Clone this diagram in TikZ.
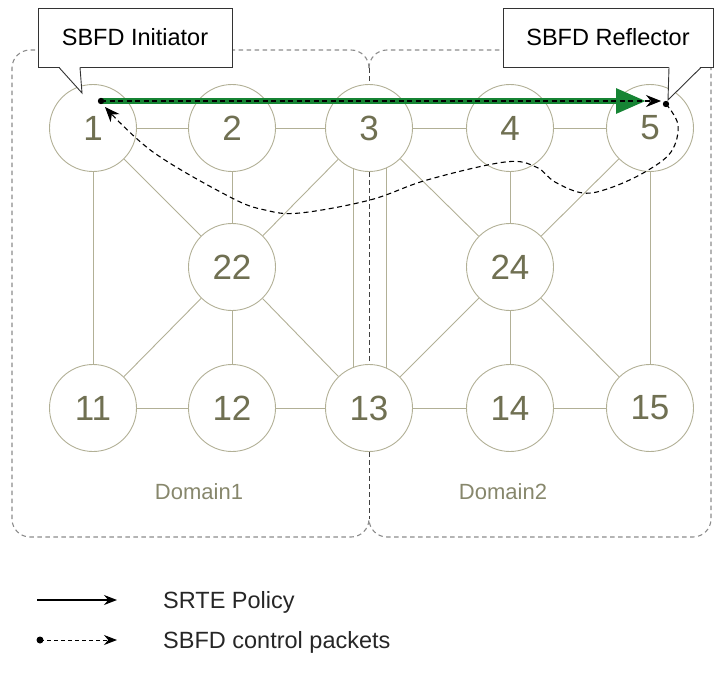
\documentclass[tikz,border=0pt]{standalone}
\usepackage{fontspec}
\setmainfont{Liberation Sans}
\usepackage{tikz}
\usetikzlibrary{positioning, calc, arrows.meta, backgrounds}
\definecolor{linkgray}{RGB}{178, 176, 150}
\definecolor{labelolive}{RGB}{112, 112, 82}
\definecolor{domainolive}{RGB}{135, 135, 108}
\definecolor{policygreen}{RGB}{22, 132, 52}
\definecolor{bordergray}{RGB}{140, 140, 140}

\begin{document}
\begin{tikzpicture}[x=1pt, y=-1pt,
    router/.style={circle, draw=linkgray, fill=white, line width=0.9pt, text=labelolive, font=\fontsize{35}{35}\selectfont, minimum size=87pt, inner sep=0pt},
    link/.style={draw=linkgray, line width=0.9pt},
    domainbox/.style={draw=bordergray, line width=1.1pt, dash pattern=on 4.5pt off 3.5pt, rounded corners=18pt},
    callout/.style={draw=black!80, fill=white, line width=0.9pt, font=\fontsize{23.5}{28}\selectfont, inner sep=0pt, minimum height=59pt},
    sbfd/.style={black, line width=1.1pt, dash pattern=on 5pt off 3.5pt},
    legendtext/.style={anchor=west, inner sep=0pt, text=black!85, font=\fontsize{23.5}{28}\selectfont}]
    \useasboundingbox (0,0) rectangle (716,680);

    % Các router của hai domain
    \node[router] (n1) at (93,128) {1};
    \node[router] (n2) at (232,128) {2};
    \node[router] (n3) at (369,128) {3};
    \node[router] (n4) at (510,128) {4};
    \node[router] (n5) at (650,128) {5};
    \node[router] (n22) at (232,267) {22};
    \node[router] (n24) at (510,267) {24};
    \node[router] (n11) at (93,408) {11};
    \node[router] (n12) at (232,408) {12};
    \node[router] (n13) at (369,408) {13};
    \node[router] (n14) at (510,408) {14};
    \node[router] (n15) at (650,408) {15};

    \node[text=domainolive, font=\fontsize{22}{26}\selectfont] (dom1) at (199,492) {Domain1};
    \node[text=domainolive, font=\fontsize{22}{26}\selectfont] (dom2) at (503,492) {Domain2};

    \begin{pgfonlayer}{background}
        \draw[domainbox] (369,68) -- (369,50) -- (12,50) -- (12,537) -- (369,537) -- (369,519);
        \draw[domainbox] (369,68) -- (369,50) -- (711,50) -- (711,537) -- (369,537) -- (369,519);
        \draw[domainbox, draw=black!75, line width=0.9pt] (369,68) -- (369,519);
        \draw[link] (n1) -- (n2) -- (n3) -- (n4) -- (n5);
        \draw[link] (n11) -- (n12) -- (n13) -- (n14) -- (n15);
        \draw[link] (n1) -- (n11);
        \draw[link] (n5) -- (n15);
        \draw[link] (n2) -- (n22) -- (n12);
        \draw[link] (n4) -- (n24) -- (n14);
        \draw[link] (n1) -- (n22) -- (n3);
        \draw[link] (n11) -- (n22) -- (n13);
        \draw[link] (n3) -- (n24) -- (n5);
        \draw[link] (n13) -- (n24) -- (n15);
        \draw[link] ($(n3)+(-16,0)$) -- ($(n13)+(-16,0)$);
        \draw[link] ($(n3)+(17,0)$) -- ($(n13)+(17,0)$);
    \end{pgfonlayer}

    % Khung chú thích Initiator / Reflector
    \node[callout, minimum width=194pt] (ini) at (135,37.5) {SBFD Initiator};
    \coordinate (initip) at (82,93);
    \fill[white] ($(ini.south)+(-76,-1)$) -- (initip) -- ($(ini.south)+(-55,-1)$) -- cycle;
    \draw[black!80, line width=0.9pt] ($(ini.south)+(-76,0)$) -- (initip) -- ($(ini.south)+(-55,0)$);

    \node[callout, minimum width=210pt] (refl) at (608,37.5) {SBFD Reflector};
    \coordinate (refltip) at (668,100);
    \fill[white] ($(refl.south)+(61,-1)$) -- (refltip) -- ($(refl.south)+(93,-1)$) -- cycle;
    \draw[black!80, line width=0.9pt] ($(refl.south)+(61,0)$) -- (refltip) -- ($(refl.south)+(93,0)$);

    % SRTE policy và gói SBFD
    \coordinate (s1) at (101,101);
    \coordinate (g5) at (646,101);
    \coordinate (t5) at (661,101);
    \coordinate (r5) at (666,104);
    \coordinate (e1) at (105,107);
    \draw[policygreen, line width=6pt, -{Triangle[length=30pt, width=24pt]}] (s1) -- (g5);
    \draw[sbfd, -{Stealth[length=15pt, width=12pt]}] (s1) -- (t5);
    \draw[sbfd, -{Stealth[length=15pt, width=12pt]}] plot[smooth, tension=0.6] coordinates {(r5) (678,125) (671,152) (645,172) (610,188) (583,193) (555,182) (536,167) (505,162) (427,180) (370,200) (300,213) (265,210) (230,197) (153,152) (e1)};
    \fill (s1) circle (3.2pt);
    \fill (r5) circle (3.2pt);

    % Chú giải
    \coordinate (la) at (37,600);
    \coordinate (lb) at (117,600);
    \draw[black, line width=1.2pt, -{Stealth[length=13pt, width=10pt]}] (la) -- (lb);
    \node[legendtext] (lpol) at (163,602) {SRTE Policy};
    \coordinate (lc) at (40,640);
    \coordinate (ld) at (117,640);
    \draw[black, line width=1pt, dash pattern=on 4pt off 3pt, -{Stealth[length=13pt, width=10pt]}] (lc) -- (ld);
    \fill (lc) circle (3.5pt);
    \node[legendtext] (lpkt) at (163,642) {SBFD control packets};
\end{tikzpicture}
\end{document}
